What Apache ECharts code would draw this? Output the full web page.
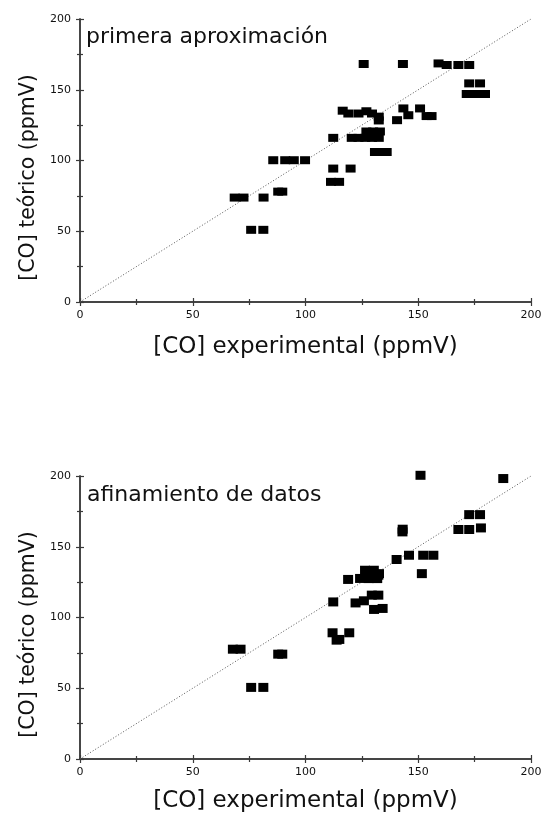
<!DOCTYPE html>
<html>
<head>
<meta charset="utf-8">
<script src="https://cdn.jsdelivr.net/npm/echarts@6/dist/echarts.min.js"></script>
<style>
html,body{margin:0;padding:0;background:#fff;}
#c{width:545px;height:814px;}
</style>
</head>
<body>
<div id="c"></div>
<script>
// Titles and labels
const titleTop = 'primera aproximación';
const titleBottom = 'afinamiento de datos';
const xName = '[CO] experimental (ppmV)';
const yName = '[CO] teórico (ppmV)';

// Top panel: [CO] experimental vs teórico (primera aproximación)
const topPoints = [
  [125.8,168.2],[143.2,168.2],[159.0,168.6],[162.6,167.5],[167.8,167.5],[172.6,167.5],
  [172.6,154.5],[177.4,154.5],
  [171.5,147.0],[175.6,147.0],[179.6,147.0],
  [116.5,135.2],[119.0,133.2],[123.5,133.2],[127.0,134.8],[129.5,133.2],[132.5,131.0],[132.5,128.3],
  [140.6,128.5],[143.4,136.8],[145.6,132.0],[150.8,136.8],[153.7,131.4],[155.9,131.4],
  [112.3,116.0],[120.5,116.0],[123.5,116.0],[126.5,116.0],[129.5,116.0],[132.5,116.0],
  [127.0,120.5],[130.0,120.5],[133.0,120.5],[131.0,118.0],
  [130.8,106.0],[133.4,106.0],[136.0,106.0],
  [85.7,100.2],[91.0,100.2],[94.8,100.2],[99.8,100.2],
  [112.3,94.3],[120.0,94.3],
  [111.3,84.9],[114.9,84.9],
  [87.9,78.0],[89.7,78.0],
  [68.6,73.8],[72.5,73.8],[81.4,73.8],
  [75.9,51.0],[81.3,51.0]
];

// Bottom panel: afinamiento de datos
const bottomPoints = [
  [151.0,200.5],[187.7,198.2],
  [172.6,172.7],[177.4,172.7],
  [167.8,162.2],[172.6,162.2],[177.8,163.3],[143.1,162.4],[143.0,160.5],
  [140.4,141.0],[145.9,144.0],[152.2,144.0],[156.7,144.0],[151.6,131.0],
  [118.9,126.9],[124.2,127.6],[127.9,129.9],[132.3,129.9],[126.4,133.4],[130.3,133.4],
  [132.6,131.0],[128.0,127.5],[131.8,127.5],
  [112.3,111.0],[122.2,110.3],[125.9,111.8],[129.4,115.8],[132.3,115.8],
  [130.4,105.7],[134.2,106.4],
  [112.0,89.2],[113.8,84.0],[119.4,89.2],[115.0,84.5],
  [67.8,77.6],[71.2,77.6],[87.9,74.1],[89.7,74.1],
  [75.9,50.6],[81.3,50.6]
];

// Identity line (teórico = experimental)
const diagonal = [[0,0],[200,200]];
const axisMin = 0, axisMax = 200, axisStep = 50;

const FONT = 'DejaVu Sans';
const frameColor = '#3a3a3a';

function mainX(gi, gap){
  return {
    type:'value', gridIndex:gi, min:axisMin, max:axisMax, interval:axisStep, position:'bottom',
    name:xName, nameLocation:'middle', nameGap:gap,
    nameTextStyle:{fontFamily:FONT, fontSize:23, color:'#111'},
    axisLine:{show:true, lineStyle:{color:frameColor, width:1.5}},
    axisTick:{show:true, inside:true, length:4, lineStyle:{color:frameColor, width:1.2}},
    minorTick:{show:true, splitNumber:2, length:3, lineStyle:{color:frameColor, width:1.2}},
    axisLabel:{fontFamily:FONT, fontSize:11, color:'#111', margin:8},
    splitLine:{show:false}
  };
}
function mirrorX(gi){
  return {
    type:'value', gridIndex:gi, min:axisMin, max:axisMax, interval:axisStep, position:'top',
    axisLine:{show:true, lineStyle:{color:frameColor, width:1.5}},
    axisTick:{show:true, inside:true, length:4, lineStyle:{color:frameColor, width:1.2}},
    minorTick:{show:true, splitNumber:2, length:3, lineStyle:{color:frameColor, width:1.2}},
    axisLabel:{show:false}, splitLine:{show:false}
  };
}
function mainY(gi){
  return {
    type:'value', gridIndex:gi, min:axisMin, max:axisMax, interval:axisStep, position:'left',
    name:yName, nameLocation:'middle', nameGap:37,
    nameTextStyle:{fontFamily:FONT, fontSize:20.5, color:'#111', padding:[0,34,0,0]},
    axisLine:{show:true, lineStyle:{color:frameColor, width:1.5}},
    axisTick:{show:true, inside:true, length:4, lineStyle:{color:frameColor, width:1.2}},
    minorTick:{show:true, splitNumber:2, length:3, lineStyle:{color:frameColor, width:1.2}},
    axisLabel:{fontFamily:FONT, fontSize:11, color:'#111', margin:9},
    splitLine:{show:false}
  };
}
function mirrorY(gi){
  return {
    type:'value', gridIndex:gi, min:axisMin, max:axisMax, interval:axisStep, position:'right',
    axisLine:{show:true, lineStyle:{color:frameColor, width:1.5}},
    axisTick:{show:true, inside:true, length:4, lineStyle:{color:frameColor, width:1.2}},
    minorTick:{show:true, splitNumber:2, length:3, lineStyle:{color:frameColor, width:1.2}},
    axisLabel:{show:false}, splitLine:{show:false}
  };
}

const chart = echarts.init(document.getElementById('c'), null, {renderer:'canvas'});
chart.setOption({
  backgroundColor:'#fff',
  animation:false,
  title:[
    {text:titleTop, left:86, top:26, padding:0,
     textStyle:{fontFamily:FONT, fontSize:22, fontWeight:'normal', color:'#111'}},
    {text:titleBottom, left:87, top:484, padding:0,
     textStyle:{fontFamily:FONT, fontSize:22, fontWeight:'normal', color:'#111'}}
  ],
  grid:[
    {left:80, right:14, top:19, height:283},
    {left:80, right:14, top:476, height:283}
  ],
  xAxis:[mainX(0, 34), mirrorX(0), mainX(1, 31), mirrorX(1)],
  yAxis:[mainY(0), mirrorY(0), mainY(1), mirrorY(1)],
  series:[
    {type:'line', xAxisIndex:0, yAxisIndex:0, data:diagonal, symbol:'none', silent:true,
     lineStyle:{color:'#555', width:1, type:[1,2]}, z:1},
    {type:'scatter', xAxisIndex:0, yAxisIndex:0, data:topPoints, symbol:'rect',
     symbolSize:[10,8], itemStyle:{color:'#000', opacity:1}, z:3},
    {type:'line', xAxisIndex:2, yAxisIndex:2, data:diagonal, symbol:'none', silent:true,
     lineStyle:{color:'#555', width:1, type:[1,2]}, z:1},
    {type:'scatter', xAxisIndex:2, yAxisIndex:2, data:bottomPoints, symbol:'rect',
     symbolSize:[10,9], itemStyle:{color:'#000', opacity:1}, clip:false, z:3}
  ]
});
</script>
</body>
</html>
